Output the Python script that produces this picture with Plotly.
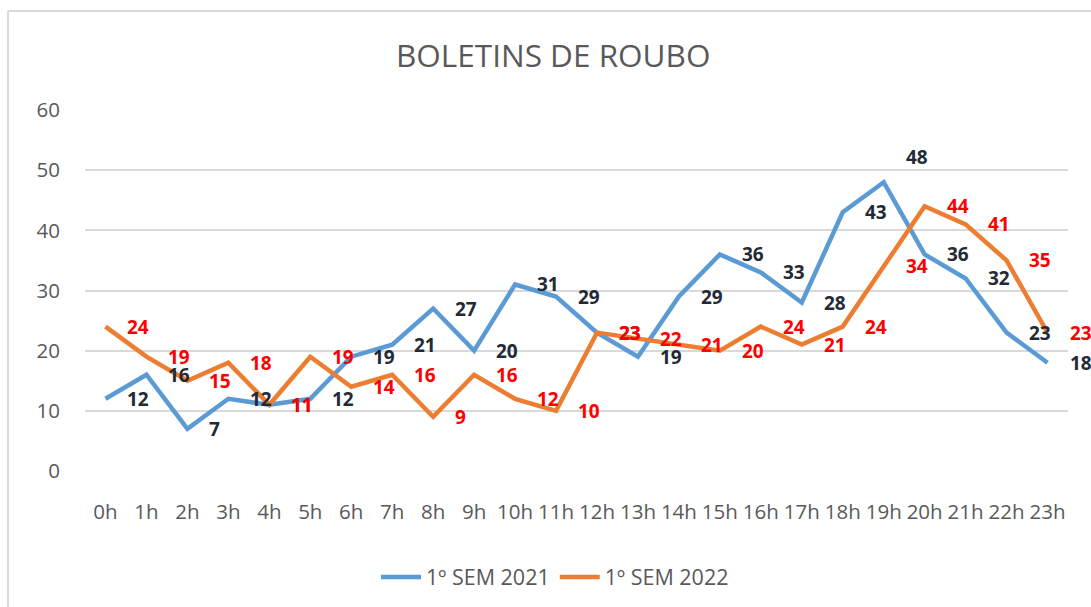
import plotly.graph_objects as go

hours = [f"{h}h" for h in range(24)]
sem_2021 = [12, 16, 7, 12, 11, 12, 19, 21, 27, 20, 31, 29, 23, 19, 29, 36, 33, 28, 43, 48, 36, 32, 23, 18]
sem_2022 = [24, 19, 15, 18, 11, 19, 14, 16, 9, 16, 12, 10, 23, 22, 21, 20, 24, 21, 24, 34, 44, 41, 35, 23]
series_names = ["1º SEM 2021", "1º SEM 2022"]
title_text = "BOLETINS DE ROUBO"

BLUE = "#5B9BD5"
ORANGE = "#ED7D31"
GRAY = "#595959"
FONT = "Open Sans, Liberation Sans, sans-serif"

fig = go.Figure()
fig.add_trace(go.Scatter(x=hours, y=sem_2021, mode="lines", name=series_names[0],
                         line=dict(color=BLUE, width=4.5), hoverinfo="x+y"))
fig.add_trace(go.Scatter(x=hours, y=sem_2022, mode="lines", name=series_names[1],
                         line=dict(color=ORANGE, width=4.5), hoverinfo="x+y"))

annotations = []
blue_nudge = {19: 25}  # label of the 48 peak lifted above the line
for i, (h, v) in enumerate(zip(hours, sem_2021)):
    annotations.append(dict(x=h, y=v, text=f"<b>{v}</b>", showarrow=False,
                            xanchor="left", yanchor="middle", xshift=20,
                            yshift=blue_nudge.get(i, 0),
                            font=dict(family=FONT, size=19, color="#222A35")))
for h, v in zip(hours, sem_2022):
    annotations.append(dict(x=h, y=v, text=f"<b>{v}</b>", showarrow=False,
                            xanchor="left", yanchor="middle", xshift=20,
                            font=dict(family=FONT, size=19, color="#FF0000")))

annotations.append(dict(text=title_text, xref="paper", yref="paper",
                        x=(553 - 85) / 983, y=(471 - 55) / 361,
                        xanchor="center", yanchor="middle", showarrow=False,
                        font=dict(family=FONT, size=31.5, color=GRAY)))

shapes = [
    dict(type="line", xref="paper", yref="paper",
         x0=(8 - 85) / 983, x1=(8 - 85) / 983, y0=(471 - 11) / 361, y1=(471 - 610) / 361,
         line=dict(color="#D9D9D9", width=2)),
    dict(type="line", xref="paper", yref="paper",
         x0=(8 - 85) / 983, x1=(1095 - 85) / 983, y0=(471 - 11) / 361, y1=(471 - 11) / 361,
         line=dict(color="#D9D9D9", width=2)),
]

fig.update_layout(
    width=1091, height=607,
    margin=dict(l=85, r=23, t=110, b=136, autoexpand=False),
    paper_bgcolor="white", plot_bgcolor="white",
    font=dict(family=FONT, color=GRAY),
    showlegend=True,
    legend=dict(orientation="h", x=(555 - 85) / 983, xanchor="center", y=(471 - 577) / 361,
                yanchor="middle", font=dict(family=FONT, size=21.5, color=GRAY),
                itemwidth=40, tracegroupgap=0),
    annotations=annotations,
    shapes=shapes,
    hovermode="closest",
)
fig.update_xaxes(type="category", range=[-0.5, 23.5], showgrid=False, showline=False,
                 zeroline=False, ticks="", ticklabelstandoff=26, automargin=False,
                 tickfont=dict(family=FONT, size=20.5, color=GRAY))
fig.update_yaxes(range=[0, 60], dtick=10, showgrid=True, gridcolor="#D9D9D9", gridwidth=1.5,
                 zeroline=False, showline=False, ticks="", ticklabelstandoff=24, automargin=False,
                 tickfont=dict(family=FONT, size=20.5, color=GRAY))

fig.write_html("out.html", config={"displayModeBar": False},
               post_script="document.body.style.margin='0';document.body.style.overflow='hidden';")
